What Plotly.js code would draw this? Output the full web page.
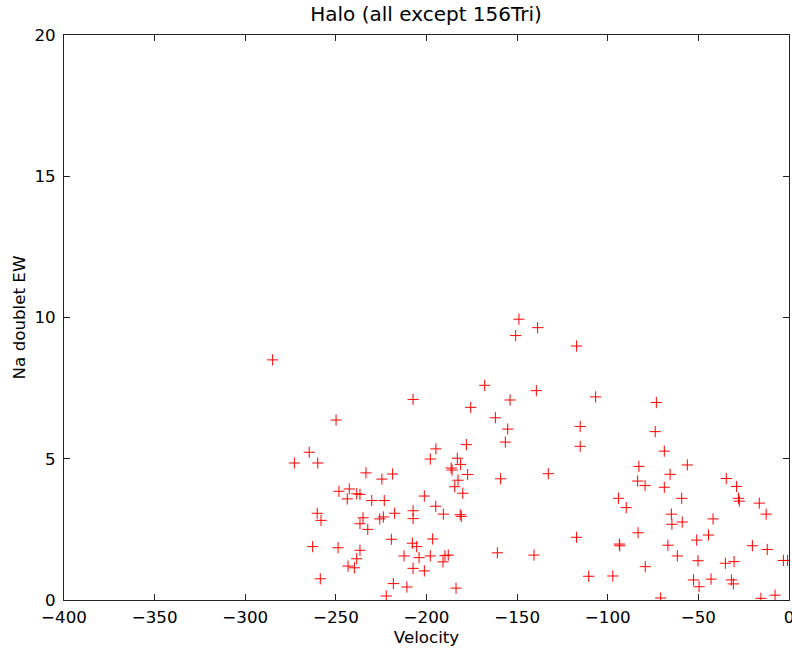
<!DOCTYPE html>
<html>
<head>
<meta charset="utf-8">
<script src="https://cdn.plot.ly/plotly-3.0.1.min.js"></script>
<style>html,body{margin:0;padding:0;background:#fff;}#chart{width:792px;height:650px;}</style>
</head>
<body>
<div id="chart"></div>
<script>
const velocity = [
  -284.9, -249.9, -264.7, -272.9, -260.0, -233.4, -224.6, -218.7, -248.3, -242.6,
  -243.7, -238.5, -236.7, -230.2, -223.3, -201.2, -194.8, -197.9, -194.9, -260.3,
  -258.2, -235.0, -236.7, -232.4, -225.8, -223.8, -217.6, -207.4, -207.4, -262.8,
  -248.8, -236.7, -238.5, -243.3, -239.8, -258.6, -219.4, -207.8, -205.4, -212.4,
  -204.1, -197.9, -196.6, -207.4, -201.2, -218.3, -210.8, -222.2, -207.4,
  -178.0, -156.5, -115.2, -183.0, -181.2, -186.4, -185.9, -177.3, -182.6, -184.4,
  -180.0, -159.1, -132.8, -190.7, -181.4, -180.8, -189.8, -188.0, -190.9, -183.7,
  -160.9, -140.7, -117.2, -110.5,
  -149.0, -138.7, -150.8, -117.2, -167.9, -139.4, -153.9, -175.6, -106.7, -162.0,
  -155.2, -115.2,
  -73.2, -73.8, -68.8, -82.8, -56.1, -65.6, -83.5, -79.4, -68.8, -34.6, -28.9,
  -94.1, -89.8, -59.2, -64.9, -64.6, -58.9, -27.9, -27.4, -16.4, -12.6, -41.9,
  -44.4, -50.9, -83.3, -93.6, -93.4, -66.8, -61.6, -50.2, -35.1, -30.3, -20.2,
  -12.0, -3.1, -0.8, -79.3, -97.2, -52.7, -49.6, -43.0, -31.8, -30.7, -70.8,
  -15.5, -7.7
];
const naEW = [
  8.50, 6.37, 5.23, 4.85, 4.85, 4.50, 4.28, 4.46, 3.85, 3.93,
  3.58, 3.76, 3.74, 3.52, 3.52, 3.68, 5.35, 4.99, 3.32, 3.07,
  2.82, 2.91, 2.70, 2.50, 2.87, 2.94, 3.07, 3.16, 2.88, 1.89,
  1.85, 1.76, 1.46, 1.20, 1.14, 0.75, 2.15, 2.01, 1.89, 1.56,
  1.50, 1.56, 2.16, 1.12, 1.03, 0.58, 0.46, 0.14, 7.10,
  5.50, 5.59, 5.44, 5.02, 4.80, 4.67, 4.60, 4.44, 4.24, 4.01,
  3.78, 4.29, 4.47, 3.04, 3.02, 2.96, 1.57, 1.59, 1.35, 0.42,
  1.67, 1.59, 2.22, 0.84,
  9.94, 9.64, 9.36, 8.99, 7.60, 7.41, 7.08, 6.82, 7.19, 6.45,
  6.05, 6.14,
  6.99, 5.96, 5.27, 4.73, 4.78, 4.45, 4.21, 4.05, 3.99, 4.30, 4.02,
  3.60, 3.27, 3.60, 3.04, 2.68, 2.76, 3.60, 3.50, 3.43, 3.04, 2.87,
  2.30, 2.12, 2.38, 1.98, 1.92, 1.94, 1.56, 1.39, 1.30, 1.36, 1.92,
  1.79, 1.40, 1.40, 1.18, 0.85, 0.71, 0.47, 0.74, 0.71, 0.57, 0.07,
  0.06, 0.17
];
const xTicks = [-400, -350, -300, -250, -200, -150, -100, -50, 0];
const yTicks = [0, 5, 10, 15, 20];

const font = 'DejaVu Sans, sans-serif';
const axisCommon = {
  showgrid: false, zeroline: false, showline: true, mirror: 'ticks',
  linecolor: '#222', linewidth: 1, ticks: 'inside', ticklen: 6, tickcolor: '#222',
  tickfont: {family: font, size: 16.7, color: '#000'}, tickmode: 'array', automargin: false,
  ticklabeloverflow: 'allow'
};
Plotly.newPlot('chart', [{
  type: 'scatter', mode: 'markers', x: velocity, y: naEW,
  marker: {symbol: 'cross-thin-open', size: 8, color: 'red', line: {color: 'red', width: 1}},
  cliponaxis: true, hoverinfo: 'x+y'
}], {
  width: 792, height: 650,
  margin: {l: 64, r: 3, t: 35, b: 50},
  paper_bgcolor: '#fff', plot_bgcolor: '#fff',
  showlegend: false,
  title: {text: 'Halo (all except 156Tri)', x: 0.538, xanchor: 'center', y: 0.978, yanchor: 'middle',
          font: {family: font, size: 20, color: '#000'}},
  xaxis: Object.assign({}, axisCommon, {range: [-400, 0], tickvals: xTicks, ticklabelstandoff: 2,
    title: {text: 'Velocity', font: {family: font, size: 16.7, color: '#000'}, standoff: 0}}),
  yaxis: Object.assign({}, axisCommon, {range: [0, 20], tickvals: yTicks, ticklabelstandoff: 4,
    title: {text: 'Na doublet EW', font: {family: font, size: 16.7, color: '#000'}, standoff: 4}})
}, {displayModeBar: false, staticPlot: true});
</script>
</body>
</html>
